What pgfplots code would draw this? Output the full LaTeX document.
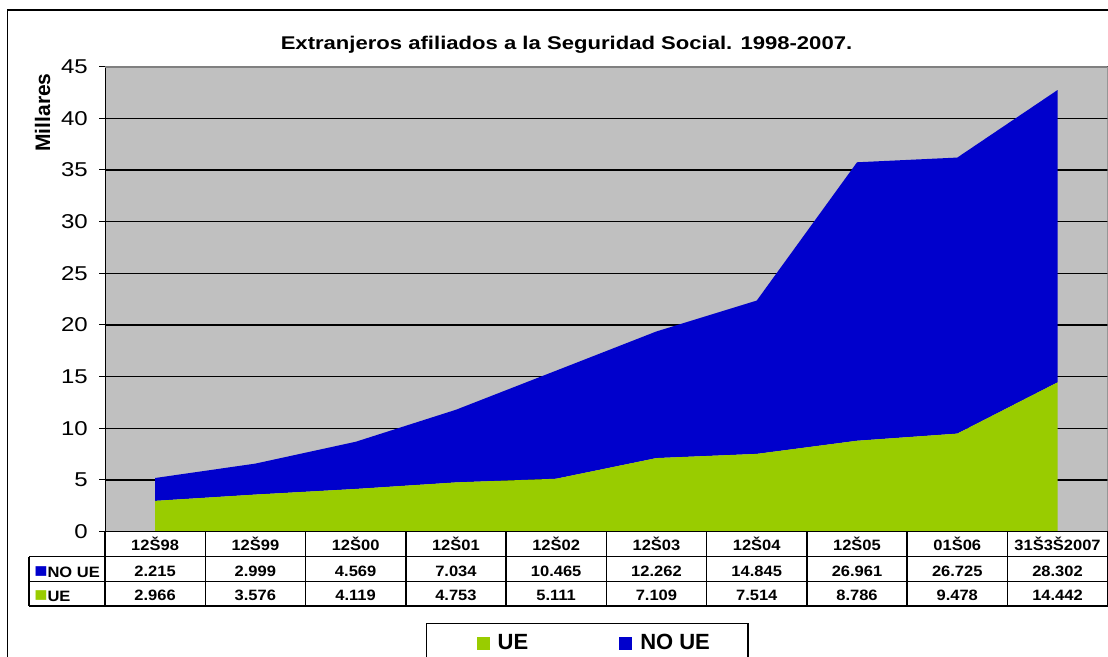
\documentclass[border=0pt]{standalone}
\usepackage{pgfplots}
\pgfplotsset{compat=1.18}
\usepackage{fontspec}
\setmainfont{Liberation Sans}[FakeStretch=1.2]
\newfontfamily\plainsans{Liberation Sans}
\newfontfamily\tablefont{Liberation Sans}[FakeStretch=1.1]
\definecolor{uegreen}{RGB}{153,204,0}
\definecolor{ueblue}{RGB}{0,0,204}
\definecolor{plotbg}{RGB}{192,192,192}
\definecolor{bordergray}{RGB}{128,128,128}
\begin{document}
\begin{tikzpicture}
\useasboundingbox (0bp,0bp) rectangle (1108bp,-657bp);
\clip (0bp,0bp) rectangle (1108bp,-657bp);
\fill[white] (0bp,0bp) rectangle (1108bp,-657bp);
\draw[black, line width=1.5bp] (7.7bp,-10bp) rectangle (1140bp,-700bp);
\begin{axis}[
  at={(105bp,-531.5bp)}, anchor=south west,
  width=1002.7bp, height=464.8bp, scale only axis,
  xmin=-0.5, xmax=9.5, ymin=0, ymax=45,
  ytick={0,5,...,45}, xtick=\empty,
  ymajorgrids, grid style={black, line width=1.4bp},
  axis background/.style={fill=plotbg},
  axis line style={draw=none},
  ytick pos=left, tick align=outside, major tick length=6bp,
  tick style={black, line width=1bp},
  /pgf/number format/assume math mode=true,
  yticklabel style={font=\fontsize{20bp}{24bp}\selectfont, inner xsep=0pt, xshift=-11bp},
  stack plots=y,
  legend style={at={(axis description cs:0.3201,-0.1960)}, anchor=north west,
    draw=black, line width=1.5bp, fill=white,
    font=\plainsans\bfseries\fontsize{22bp}{26bp}\selectfont,
    inner xsep=36bp, inner ysep=9bp,
    /tikz/every even column/.append style={column sep=75bp}},
  legend columns=2,
  legend image code/.code={\path (-15bp,0bp); \fill[#1] (-1bp,-7bp) rectangle (12bp,6bp);},
]
\addplot[fill=uegreen, draw=none] coordinates {
 (0,2.966) (1,3.576) (2,4.119) (3,4.753) (4,5.111) (5,7.109) (6,7.514) (7,8.786) (8,9.478) (9,14.442)
} \closedcycle;
\addlegendentry{\hspace{6bp}UE}
\addplot[fill=ueblue, draw=none] coordinates {
 (0,2.215) (1,2.999) (2,4.569) (3,7.034) (4,10.465) (5,12.262) (6,14.845) (7,26.961) (8,26.725) (9,28.302)
} \closedcycle;
\addlegendentry{\hspace{6bp}NO UE}
\draw[bordergray, line width=2bp] (rel axis cs:0,1) -- (rel axis cs:1,1) -- (rel axis cs:1,0);
\draw[black, line width=1.5bp] (rel axis cs:0,1) -- (rel axis cs:0,0);
\end{axis}
% title and axis label
\node[anchor=base, font=\bfseries\fontsize{18.4bp}{22bp}\selectfont] at (566.5bp,-49bp) {Extranjeros afiliados a la Seguridad Social. 1998-2007.};
\node[rotate=90, font=\plainsans\bfseries\fontsize{21bp}{25bp}\selectfont] at (42.5bp,-112.5bp) {Millares};
% data table
\begin{scope}[x=1bp, y=-1bp, line width=1.5bp]
\draw (105,531.5) -- (1107.7,531.5);
\draw (29,556.7) -- (1107.7,556.7);
\draw (29,581.7) -- (1107.7,581.7);
\draw (29,606) -- (1107.7,606);
\draw (29,556.7) -- (29,606);
\foreach \k in {0,...,10} { \draw ({105+100.27*\k},531.5) -- ({105+100.27*\k},606); }
\foreach \lab [count=\i from 0] in {12Š98,12Š99,12Š00,12Š01,12Š02,12Š03,12Š04,12Š05,01Š06,31Š3Š2007}
  { \node[anchor=base, inner sep=0pt, font=\tablefont\bfseries\fontsize{15bp}{18bp}\selectfont] at ({155.1+100.27*\i},550.7) {\lab}; }
\foreach \lab [count=\i from 0] in {2.215,2.999,4.569,7.034,10.465,12.262,14.845,26.961,26.725,28.302}
  { \node[anchor=base, inner sep=0pt, font=\tablefont\bfseries\fontsize{15bp}{18bp}\selectfont] at ({155.1+100.27*\i},576) {\lab}; }
\foreach \lab [count=\i from 0] in {2.966,3.576,4.119,4.753,5.111,7.109,7.514,8.786,9.478,14.442}
  { \node[anchor=base, inner sep=0pt, font=\tablefont\bfseries\fontsize{15bp}{18bp}\selectfont] at ({155.1+100.27*\i},600) {\lab}; }
\node[anchor=base west, inner sep=0pt, font=\tablefont\bfseries\fontsize{15bp}{18bp}\selectfont] at (33.5,577) {\textcolor{ueblue}{\fontsize{20bp}{20bp}\selectfont■}NO UE};
\node[anchor=base west, inner sep=0pt, font=\tablefont\bfseries\fontsize{15bp}{18bp}\selectfont] at (33.5,601) {\textcolor{uegreen}{\fontsize{20bp}{20bp}\selectfont■}UE};
\end{scope}
\end{tikzpicture}
\end{document}
